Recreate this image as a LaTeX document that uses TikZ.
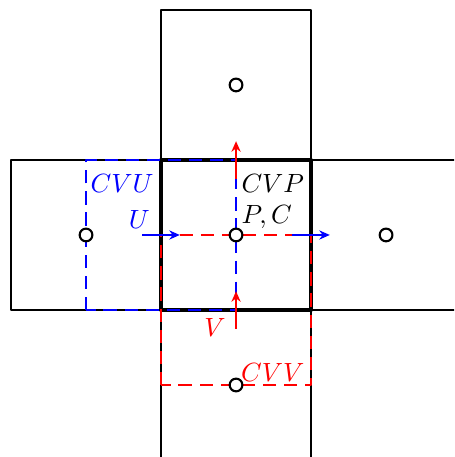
\documentclass[tikz,border=0pt]{standalone}
\usepackage{amsmath,amssymb}
\usepackage{xcolor}
\usetikzlibrary{arrows.meta, positioning, calc}

\tikzset{
    cell/.style={thick},
    centre/.style={circle, draw, thick, fill=white, inner sep=0pt, minimum size=0.17cm},
    cvu/.style={blue, thick, dash pattern=on 5pt off 3pt},
    cvv/.style={red, thick, dash pattern=on 5pt off 3pt},
    vel/.style={semithick, -{Stealth[length=4pt, width=3.5pt]}}
}

\begin{document}
\begin{tikzpicture}[line join=round]

    % Frame
    \useasboundingbox (-3.147,-2.96) rectangle (2.907,3.133);
    \clip (-3.147,-2.96) rectangle (2.907,3.133);

    % Grid cells
    \foreach \x/\y in {0/2, -2/0, 2/0, 0/-2}{
        \draw[cell] (\x-1,\y-1) rectangle (\x+1,\y+1);
    }
    \draw[cell, line width=1.5pt] (-1,-1) rectangle (1,1);

    % Control volumes (staggered)
    \draw[cvu] (-2,-1) rectangle (0,1);
    \draw[cvv] (-1,-2) rectangle (1,0);

    % Cell centres
    \foreach \x/\y/\n in {0/0/P, 0/2/N, -2/0/W, 2/0/E, 0/-2/S}{
        \node[centre] (c\n) at (\x,\y) {};
    }

    % Velocity arrows
    \coordinate (uw0) at (-1.25,0);
    \coordinate (uw1) at (-0.75,0);
    \coordinate (ue0) at (0.75,0);
    \coordinate (ue1) at (1.25,0);
    \coordinate (vs0) at (0,-1.25);
    \coordinate (vs1) at (0,-0.75);
    \coordinate (vn0) at (0,0.75);
    \coordinate (vn1) at (0,1.25);
    \draw[vel, blue] (uw0) -- (uw1);
    \draw[vel, blue] (ue0) -- (ue1);
    \draw[vel, red] (vs0) -- (vs1);
    \draw[vel, red] (vn0) -- (vn1);

    % Labels
    \node[blue] (lcvu) at (-1.52,0.68) {$CVU$};
    \node[blue] (lu) at (-1.29,0.2) {$U$};
    \node (lcvp) at (0.49,0.68) {$CVP$};
    \node (lpc) at (0.41,0.24) {$P,C$};
    \node[red] (lv) at (-0.28,-1.23) {$V$};
    \node[red] (lcvv) at (0.49,-1.83) {$CVV$};

\end{tikzpicture}
\end{document}
